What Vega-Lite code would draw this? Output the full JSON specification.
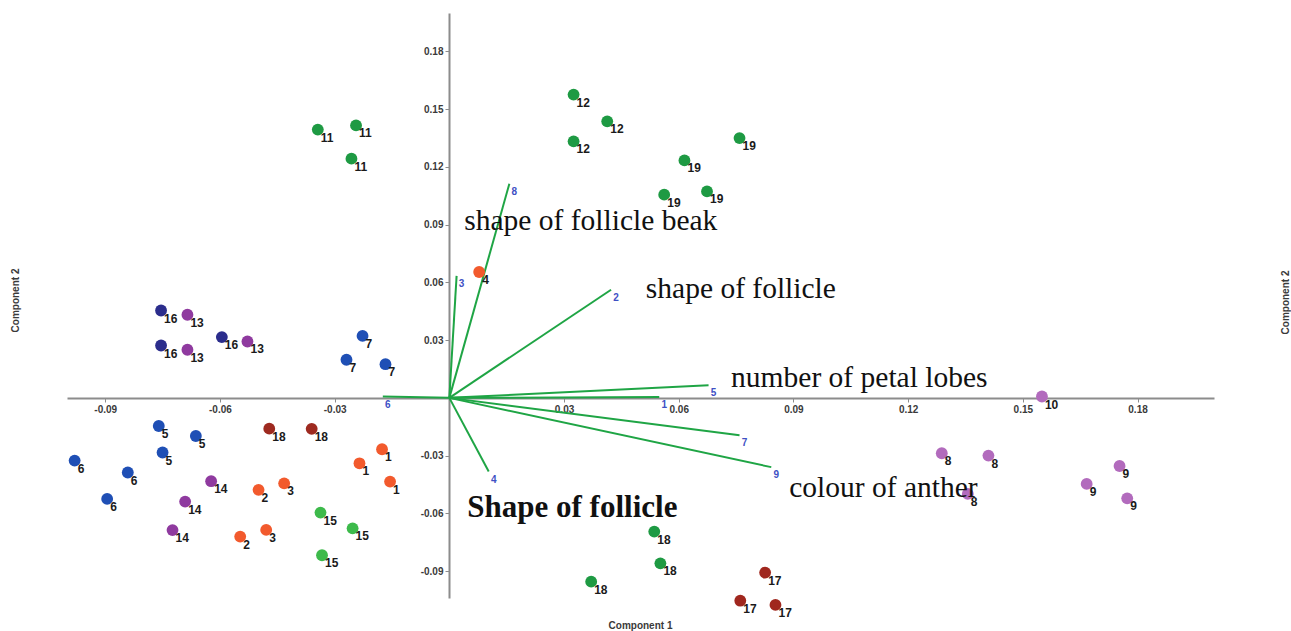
{
  "$schema": "https://vega.github.io/schema/vega-lite/v6.json",
  "width": 1147,
  "height": 585,
  "autosize": {"type": "none"},
  "padding": {"left": 67, "top": 13, "right": 77, "bottom": 33},
  "background": "white",
  "config": {"view": {"stroke": null}, "axis": {"grid": false}},
  "resolve": {"axis": {"y": "independent"}},
  "datasets": {
    "points": [
      {"g": "16", "label": "16", "x": -0.0754, "y": 0.0454},
      {"g": "16", "label": "16", "x": -0.0754, "y": 0.0272},
      {"g": "16", "label": "16", "x": -0.0595, "y": 0.0316},
      {"g": "13", "label": "13", "x": -0.0685, "y": 0.0432},
      {"g": "13", "label": "13", "x": -0.0685, "y": 0.0250},
      {"g": "13", "label": "13", "x": -0.0528, "y": 0.0293},
      {"g": "7", "label": "7", "x": -0.0227, "y": 0.0322},
      {"g": "7", "label": "7", "x": -0.0269, "y": 0.0198},
      {"g": "7", "label": "7", "x": -0.0167, "y": 0.0175},
      {"g": "5", "label": "5", "x": -0.0760, "y": -0.0146},
      {"g": "5", "label": "5", "x": -0.0663, "y": -0.0198},
      {"g": "5", "label": "5", "x": -0.0750, "y": -0.0284},
      {"g": "6", "label": "6", "x": -0.0980, "y": -0.0326},
      {"g": "6", "label": "6", "x": -0.0841, "y": -0.0388},
      {"g": "6", "label": "6", "x": -0.0895, "y": -0.0525},
      {"g": "18r", "label": "18", "x": -0.0471, "y": -0.0160},
      {"g": "18r", "label": "18", "x": -0.0360, "y": -0.0161},
      {"g": "1", "label": "1", "x": -0.0176, "y": -0.0267},
      {"g": "1", "label": "1", "x": -0.0235, "y": -0.0340},
      {"g": "1", "label": "1", "x": -0.0155, "y": -0.0435},
      {"g": "14", "label": "14", "x": -0.0623, "y": -0.0433},
      {"g": "14", "label": "14", "x": -0.0691, "y": -0.0539},
      {"g": "14", "label": "14", "x": -0.0724, "y": -0.0687},
      {"g": "2", "label": "2", "x": -0.0499, "y": -0.0478},
      {"g": "2", "label": "2", "x": -0.0547, "y": -0.0721},
      {"g": "3", "label": "3", "x": -0.0432, "y": -0.0444},
      {"g": "3", "label": "3", "x": -0.0479, "y": -0.0686},
      {"g": "15", "label": "15", "x": -0.0337, "y": -0.0596},
      {"g": "15", "label": "15", "x": -0.0253, "y": -0.0678},
      {"g": "15", "label": "15", "x": -0.0333, "y": -0.0818},
      {"g": "11", "label": "11", "x": -0.0344, "y": 0.1394},
      {"g": "11", "label": "11", "x": -0.0244, "y": 0.1416},
      {"g": "11", "label": "11", "x": -0.0256, "y": 0.1243},
      {"g": "12", "label": "12", "x": 0.0325, "y": 0.1576},
      {"g": "12", "label": "12", "x": 0.0413, "y": 0.1437},
      {"g": "12", "label": "12", "x": 0.0325, "y": 0.1333},
      {"g": "19", "label": "19", "x": 0.0759, "y": 0.1350},
      {"g": "19", "label": "19", "x": 0.0615, "y": 0.1234},
      {"g": "19", "label": "19", "x": 0.0562, "y": 0.1056},
      {"g": "19", "label": "19", "x": 0.0674, "y": 0.1073},
      {"g": "4", "label": "4", "x": 0.0078, "y": 0.0654},
      {"g": "18g", "label": "18", "x": 0.0536, "y": -0.0695},
      {"g": "18g", "label": "18", "x": 0.0552, "y": -0.0860},
      {"g": "18g", "label": "18", "x": 0.0371, "y": -0.0955},
      {"g": "17", "label": "17", "x": 0.0826, "y": -0.0908},
      {"g": "17", "label": "17", "x": 0.0761, "y": -0.1054},
      {"g": "17", "label": "17", "x": 0.0853, "y": -0.1076},
      {"g": "10", "label": "10", "x": 0.1550, "y": 0.0007},
      {"g": "8", "label": "8", "x": 0.1288, "y": -0.0288},
      {"g": "8", "label": "8", "x": 0.1410, "y": -0.0300},
      {"g": "8", "label": "8", "x": 0.1356, "y": -0.0499},
      {"g": "9", "label": "9", "x": 0.1753, "y": -0.0354},
      {"g": "9", "label": "9", "x": 0.1667, "y": -0.0447},
      {"g": "9", "label": "9", "x": 0.1773, "y": -0.0522}
    ],
    "vectors": [
      {"label": "8", "ex": 0.0157, "ey": 0.1113},
      {"label": "3", "ex": 0.0019, "ey": 0.0634},
      {"label": "2", "ex": 0.0423, "ey": 0.0562},
      {"label": "5", "ex": 0.0678, "ey": 0.0066},
      {"label": "1", "ex": 0.0549, "ey": 0.0004},
      {"label": "7", "ex": 0.0759, "ey": -0.0194},
      {"label": "9", "ex": 0.0842, "ey": -0.0360},
      {"label": "4", "ex": 0.0103, "ey": -0.0383},
      {"label": "6", "ex": -0.0174, "ey": 0.0007}
    ],
    "notes": [
      {"text": "shape of follicle beak", "kind": "regular", "x": 0.0039, "y": 0.0874},
      {"text": "shape of follicle", "kind": "regular", "x": 0.0514, "y": 0.0518},
      {"text": "number of petal lobes", "kind": "regular", "x": 0.0737, "y": 0.0059},
      {"text": "colour of anther", "kind": "regular", "x": 0.0889, "y": -0.0513},
      {"text": "Shape of follicle", "kind": "bold", "x": 0.0047, "y": -0.0617}
    ]
  },
  "layer": [
    {
      "data": {"name": "vectors"},
      "mark": {"type": "rule", "color": "#1fa545", "strokeWidth": 2},
      "encoding": {
        "x": {
          "field": "ex", "type": "quantitative",
          "scale": {"domain": [-0.1, 0.2], "nice": false, "zero": false},
          "axis": {
            "values": [-0.09, -0.06, -0.03, 0.03, 0.06, 0.09, 0.12, 0.15, 0.18],
            "labelExpr": "(datum.value < 0 ? '-' : '') + format(abs(datum.value), '.2f')",
            "offset": -200,
            "domainColor": "#8c8c8c", "domainWidth": 2,
            "tickColor": "#8c8c8c", "tickSize": 4, "tickWidth": 1,
            "labelFont": "Liberation Sans", "labelFontWeight": "bold", "labelFontSize": 10,
            "labelColor": "#3a3a3a", "labelPadding": 2, "labelOverlap": false, "labelFlush": false,
            "title": "Component 1",
            "titleFont": "Liberation Sans", "titleFontWeight": "bold", "titleFontSize": 10,
            "titleColor": "#3a3a3a", "titleX": 573, "titleY": 227, "titleBaseline": "middle"
          }
        },
        "y": {
          "field": "ey", "type": "quantitative",
          "scale": {"domain": [-0.104, 0.2], "nice": false, "zero": false},
          "axis": {
            "orient": "left",
            "values": [-0.09, -0.06, -0.03, 0.03, 0.06, 0.09, 0.12, 0.15, 0.18],
            "labelExpr": "(datum.value < 0 ? '-' : '') + format(abs(datum.value), '.2f')",
            "offset": -382,
            "domainColor": "#8c8c8c", "domainWidth": 2,
            "tickColor": "#8c8c8c", "tickSize": 4, "tickWidth": 1,
            "labelFont": "Liberation Sans", "labelFontWeight": "bold", "labelFontSize": 10,
            "labelColor": "#3a3a3a", "labelPadding": 2, "labelOverlap": false, "labelFlush": false,
            "title": "Component 2",
            "titleFont": "Liberation Sans", "titleFontWeight": "bold", "titleFontSize": 10,
            "titleColor": "#3a3a3a", "titleX": -434, "titleY": 287, "titleAngle": -90,
            "titleBaseline": "middle", "titleAlign": "center"
          }
        },
        "x2": {"datum": 0},
        "y2": {"datum": 0}
      }
    },
    {
      "data": {"name": "vectors"},
      "mark": {"type": "text", "color": "#3e50c4", "font": "Liberation Sans", "fontWeight": "bold", "fontSize": 10, "align": "center", "baseline": "middle", "dx": 5, "dy": 8},
      "encoding": {
        "x": {"field": "ex", "type": "quantitative"},
        "y": {"field": "ey", "type": "quantitative", "axis": null},
        "text": {"field": "label"}
      }
    },
    {
      "data": {"name": "points"},
      "mark": {"type": "circle", "opacity": 1},
      "encoding": {
        "x": {"field": "x", "type": "quantitative"},
        "y": {"field": "y", "type": "quantitative", "axis": null},
        "color": {
          "field": "g", "type": "nominal", "legend": null,
          "scale": {
            "domain": ["1", "2", "3", "4", "5", "6", "7", "8", "9", "10", "11", "12", "13", "14", "15", "16", "17", "18r", "18g", "19"],
            "range": ["#f25a2d", "#f25a2d", "#f25a2d", "#f25a2d", "#1f4fb5", "#1f4fb5", "#1f4fb5", "#b26bbd", "#b26bbd", "#b26bbd", "#1e9a43", "#1e9a43", "#8f3a9f", "#8f3a9f", "#3dba4b", "#2b2d8c", "#a0271e", "#9e2a20", "#1e9a43", "#1e9a43"]
          }
        },
        "size": {
          "field": "g", "type": "nominal", "legend": null,
          "scale": {
            "domain": ["1", "2", "3", "4", "5", "6", "7", "8", "9", "10", "11", "12", "13", "14", "15", "16", "17", "18r", "18g", "19"],
            "range": [140, 140, 140, 150, 150, 160, 160, 160, 160, 170, 180, 180, 160, 140, 140, 170, 160, 140, 90, 90]
          }
        }
      }
    },
    {
      "data": {"name": "points"},
      "mark": {"type": "text", "color": "#1a1a1a", "font": "Liberation Sans", "fontWeight": "bold", "fontSize": 12, "align": "left", "baseline": "middle", "dx": 3, "dy": 8},
      "encoding": {
        "x": {"field": "x", "type": "quantitative"},
        "y": {"field": "y", "type": "quantitative", "axis": null},
        "text": {"field": "label"}
      }
    },
    {
      "data": {"name": "notes"},
      "transform": [{"filter": "datum.kind == 'regular'"}],
      "mark": {"type": "text", "color": "#111111", "font": "Liberation Serif", "fontSize": 29.5, "align": "left", "baseline": "alphabetic"},
      "encoding": {
        "x": {"field": "x", "type": "quantitative"},
        "y": {"field": "y", "type": "quantitative", "axis": null},
        "text": {"field": "text"}
      }
    },
    {
      "data": {"name": "notes"},
      "transform": [{"filter": "datum.kind == 'bold'"}],
      "mark": {"type": "text", "color": "#111111", "font": "Liberation Serif", "fontWeight": "bold", "fontSize": 31, "align": "left", "baseline": "alphabetic"},
      "encoding": {
        "x": {"field": "x", "type": "quantitative"},
        "y": {
          "field": "y", "type": "quantitative",
          "axis": {
            "orient": "right", "domain": false, "ticks": false, "labels": false, "grid": false,
            "title": "Component 2",
            "titleFont": "Liberation Sans", "titleFontWeight": "bold", "titleFontSize": 10,
            "titleColor": "#3a3a3a", "titleX": 71, "titleY": 289, "titleAngle": -90,
            "titleBaseline": "middle", "titleAlign": "center"
          }
        },
        "text": {"field": "text"}
      }
    }
  ]
}
